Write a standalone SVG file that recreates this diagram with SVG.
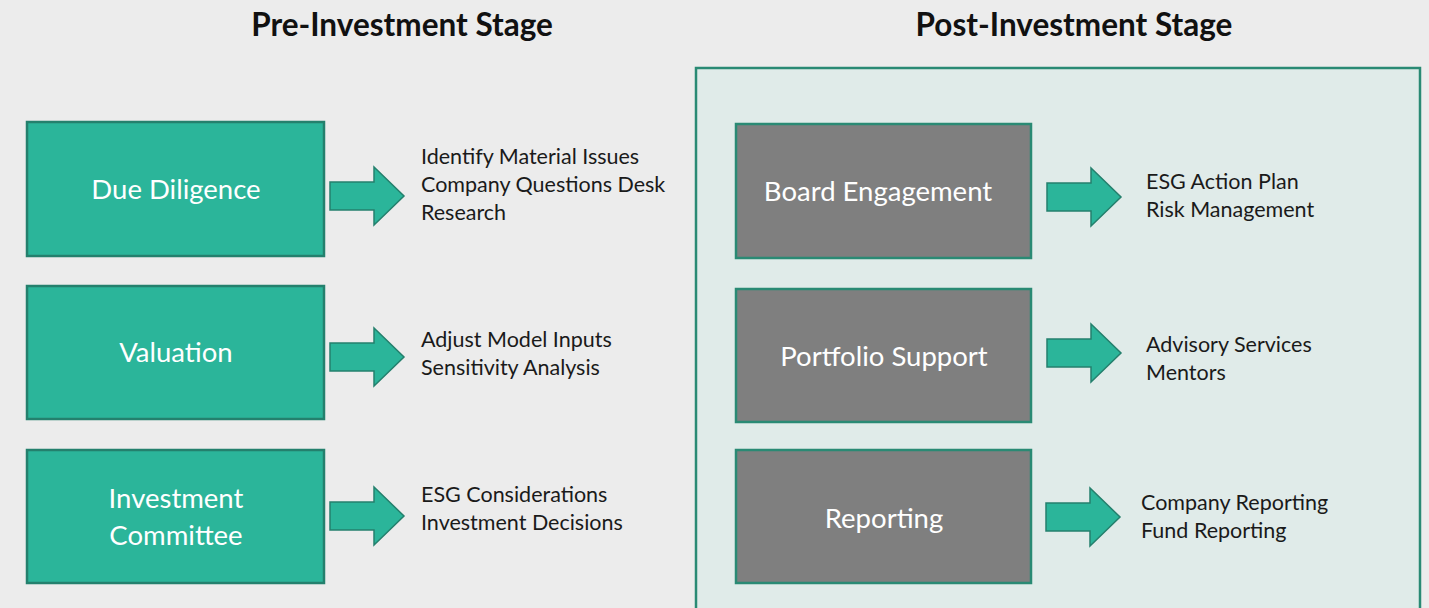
<svg xmlns="http://www.w3.org/2000/svg" width="1429" height="608" viewBox="0 0 1429 608">
  <defs>
    <style>
      .title { font-family: "Lato", "Liberation Sans", sans-serif; font-weight: bold; font-size: 31.5px; fill: #111; text-anchor: middle; }
      .label { font-family: "Lato", "Liberation Sans", sans-serif; font-size: 27.5px; fill: #ffffff; text-anchor: middle; }
      .note { font-family: "Lato", "Liberation Sans", sans-serif; font-size: 21.5px; fill: #1a1a1a; }
      .teal { fill: #2bb59a; stroke: #24806d; stroke-width: 2.5; }
      .grey { fill: #7f7f7f; stroke: #2a8a74; stroke-width: 2.5; }
      .arrow { fill: #2bb59a; stroke: #24806d; stroke-width: 1.5; stroke-linejoin: miter; }
    </style>
    <!-- block arrow pointing right, origin at the shaft's left edge / centre line -->
    <path id="blockArrow" d="M0,-14 L44,-14 L44,-29 L74,0 L44,29 L44,14 L0,14 Z"/>
  </defs>

  <rect x="0" y="0" width="1429" height="608" fill="#ececec"/>

  <!-- stage headings -->
  <text class="title" x="402" y="36">Pre-Investment Stage</text>
  <text class="title" x="1074" y="36">Post-Investment Stage</text>

  <!-- post-investment panel -->
  <rect id="post-panel" x="696" y="68" width="724" height="560" fill="#e0ebe9" stroke="#2a8a74" stroke-width="2.5"/>

  <!-- pre-investment nodes -->
  <g id="due-diligence">
    <rect class="teal" x="27" y="122" width="297" height="134"/>
    <text class="label" x="176" y="199">Due Diligence</text>
  </g>
  <g id="valuation">
    <rect class="teal" x="27" y="286" width="297" height="133"/>
    <text class="label" x="176" y="362">Valuation</text>
  </g>
  <g id="investment-committee">
    <rect class="teal" x="27" y="450" width="297" height="133"/>
    <text class="label" x="176" y="508">Investment</text>
    <text class="label" x="176" y="545">Committee</text>
  </g>

  <!-- post-investment nodes -->
  <g id="board-engagement">
    <rect class="grey" x="736" y="124" width="295" height="134"/>
    <text class="label" x="878" y="201">Board Engagement</text>
  </g>
  <g id="portfolio-support">
    <rect class="grey" x="736" y="289" width="295" height="133"/>
    <text class="label" x="884" y="366">Portfolio Support</text>
  </g>
  <g id="reporting">
    <rect class="grey" x="736" y="450" width="295" height="133"/>
    <text class="label" x="884" y="528">Reporting</text>
  </g>

  <!-- connectors -->
  <g id="connectors">
    <use href="#blockArrow" class="arrow" x="330" y="196"/>
    <use href="#blockArrow" class="arrow" x="330" y="357"/>
    <use href="#blockArrow" class="arrow" x="330" y="516"/>
    <use href="#blockArrow" class="arrow" x="1047" y="197"/>
    <use href="#blockArrow" class="arrow" x="1047" y="353"/>
    <use href="#blockArrow" class="arrow" x="1046" y="517"/>
  </g>

  <!-- outcome notes -->
  <g id="due-diligence-notes">
    <text class="note" x="421" y="164">Identify Material Issues</text>
    <text class="note" x="421" y="192">Company Questions Desk</text>
    <text class="note" x="421" y="220">Research</text>
  </g>
  <g id="valuation-notes">
    <text class="note" x="421" y="347">Adjust Model Inputs</text>
    <text class="note" x="421" y="375">Sensitivity Analysis</text>
  </g>
  <g id="committee-notes">
    <text class="note" x="421" y="502">ESG Considerations</text>
    <text class="note" x="421" y="530">Investment Decisions</text>
  </g>
  <g id="board-notes">
    <text class="note" x="1146" y="189">ESG Action Plan</text>
    <text class="note" x="1146" y="217">Risk Management</text>
  </g>
  <g id="portfolio-notes">
    <text class="note" x="1146" y="352">Advisory Services</text>
    <text class="note" x="1146" y="380">Mentors</text>
  </g>
  <g id="reporting-notes">
    <text class="note" x="1141" y="510">Company Reporting</text>
    <text class="note" x="1141" y="538">Fund Reporting</text>
  </g>
</svg>
